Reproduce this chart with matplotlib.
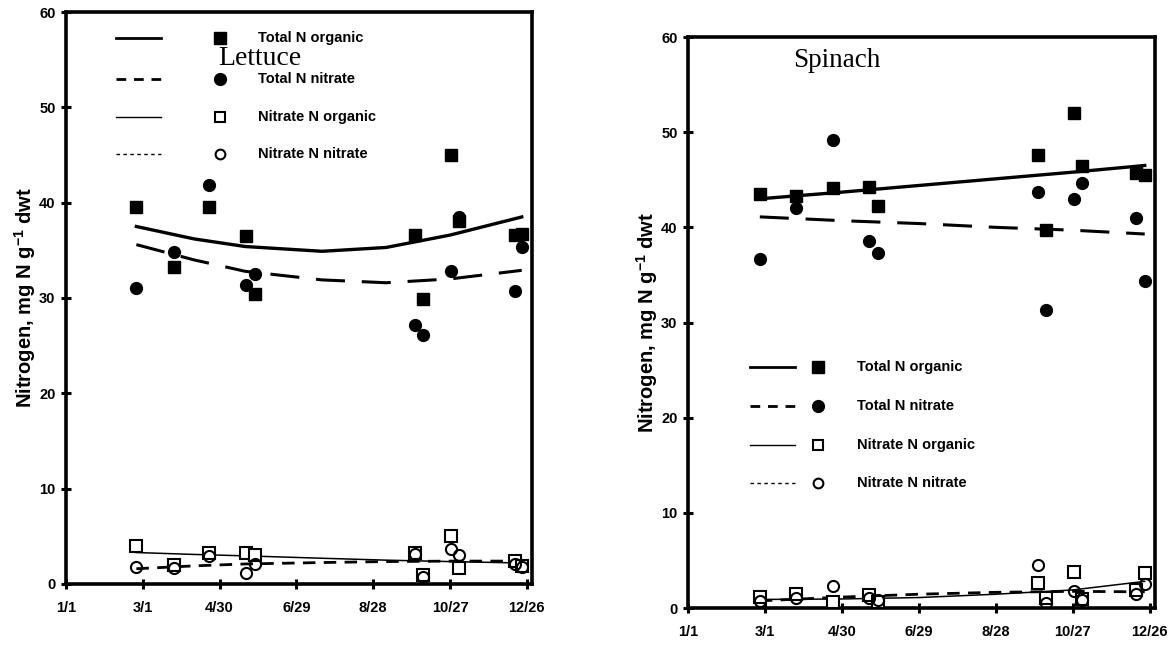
import matplotlib
matplotlib.use("Agg")
import matplotlib.pyplot as plt

plt.rcParams['font.family'] = ['Liberation Sans', 'DejaVu Sans']
plt.rcParams['font.weight'] = 'bold'
plt.rcParams['mathtext.fontset'] = 'custom'
plt.rcParams['mathtext.rm'] = 'Liberation Sans:bold'
plt.rcParams['mathtext.default'] = 'rm'

# x axis: day of year (1/1 = 0), tick every 60 days
tick_days = [0, 60, 120, 180, 240, 300, 360]
tick_labels = ["1/1", "3/1", "4/30", "6/29", "8/28", "10/27", "12/26"]
y_ticks = [0, 10, 20, 30, 40, 50, 60]
legend_labels = ["Total N organic", "Total N nitrate", "Nitrate N organic", "Nitrate N nitrate"]

# Lettuce
lettuce_days = [55, 84, 112, 141, 148, 273, 279, 301, 307, 351, 356]
lettuce_total_org = [39.5, 33.2, 39.5, 36.5, 30.4, 36.6, 29.9, 45.0, 38.1, 36.6, 36.7]
lettuce_total_nit = [31.0, 34.8, 41.9, 31.4, 32.5, 27.2, 26.1, 32.8, 38.5, 30.7, 35.3]
lettuce_nitrate_org = [4.0, 2.0, 3.2, 3.3, 3.0, 3.2, 0.9, 5.0, 1.7, 2.4, 1.9]
lettuce_nitrate_nit = [1.8, 1.7, 2.9, 1.2, 2.1, 3.1, 0.7, 3.7, 3.0, 2.1, 1.8]

lettuce_fit_days = [55, 100, 140, 200, 250, 300, 356]
lettuce_fit_total_org = [37.5, 36.2, 35.4, 34.9, 35.3, 36.6, 38.5]
lettuce_fit_total_nit = [35.6, 34.0, 32.8, 31.9, 31.6, 32.0, 32.9]
lettuce_fit_nitrate_org = [3.3, 3.1, 2.95, 2.7, 2.5, 2.35, 2.2]
lettuce_fit_nitrate_nit = [1.6, 1.9, 2.1, 2.25, 2.35, 2.4, 2.4]

# Spinach
spinach_days = [56, 84, 113, 141, 148, 273, 279, 301, 307, 349, 356]
spinach_total_org = [43.5, 43.3, 44.1, 44.2, 42.2, 47.6, 39.7, 52.0, 46.4, 45.7, 45.5]
spinach_total_nit = [36.7, 42.0, 49.2, 38.6, 37.3, 43.7, 31.3, 43.0, 44.7, 41.0, 34.4]
spinach_nitrate_org = [1.2, 1.5, 0.6, 1.4, 0.6, 2.6, 1.1, 3.8, 0.9, 1.9, 3.7]
spinach_nitrate_nit = [0.7, 1.1, 2.3, 1.0, 0.8, 4.5, 0.5, 1.8, 0.8, 1.5, 2.5]

spinach_fit_days = [56, 120, 180, 240, 300, 356]
spinach_fit_total_org = [43.0, 43.7, 44.4, 45.1, 45.8, 46.5]
spinach_fit_total_nit = [41.1, 40.7, 40.4, 40.0, 39.7, 39.3]
spinach_fit_nitrate_org = [0.9, 0.95, 1.1, 1.45, 1.9, 2.8]
spinach_fit_nitrate_nit = [0.75, 1.15, 1.45, 1.65, 1.75, 1.7]

fig = plt.figure(figsize=(11.74, 6.46), dpi=100)
ax1 = fig.add_axes([0.0562, 0.0960, 0.3969, 0.8854])
ax2 = fig.add_axes([0.5860, 0.0588, 0.3978, 0.8839])

long_dash = (9.5, 5.5)
short_dash = (4.5, 3.0)


def draw_panel(ax, days, t_org, t_nit, n_org, n_nit,
               fdays, f_t_org, f_t_nit, f_n_org, f_n_nit):
    ax.plot(fdays, f_t_org, color='black', lw=2.4, zorder=3)
    ax.plot(fdays, f_t_nit, color='black', lw=2.2, dashes=long_dash, zorder=3)
    ax.plot(fdays, f_n_org, color='black', lw=1.1, zorder=3)
    ax.plot(fdays, f_n_nit, color='black', lw=2.0, dashes=short_dash, zorder=3)
    ax.plot(days, t_org, 's', color='black', ms=8.5, zorder=4)
    ax.plot(days, t_nit, 'o', color='black', ms=8.5, zorder=4)
    ax.plot(days, n_org, 's', mfc='white', mec='black', mew=1.5, ms=8, zorder=4)
    ax.plot(days, n_nit, 'o', mfc='none', mec='black', mew=1.5, ms=8, zorder=5)

    ax.set_xlim(0, 364)
    ax.set_ylim(0, 60)
    ax.set_xticks(tick_days)
    ax.set_xticklabels(tick_labels)
    ax.set_yticks(y_ticks)
    for s in ax.spines.values():
        s.set_linewidth(2.6)
    ax.tick_params(axis='both', direction='inout', length=7, width=2.2, labelsize=10.5)
    ax.tick_params(axis='x', pad=9)
    ax.tick_params(axis='y', pad=4)
    ax.set_ylabel(r'Nitrogen, mg N g$^{-1}$ dwt', fontsize=14.5, fontweight='bold', labelpad=1)


def draw_key(ax, x_line, x_mark, x_text, rows):
    styles = [dict(lw=2.0), dict(lw=2.0, dashes=(3.5, 2.8)), dict(lw=1.0), dict(lw=1.0, dashes=(2.5, 2.5))]
    marks = [dict(marker='s', mfc='black', mec='black', ms=8),
             dict(marker='o', mfc='black', mec='black', ms=8.5),
             dict(marker='s', mfc='white', mec='black', mew=1.5, ms=7),
             dict(marker='o', mfc='white', mec='black', mew=1.5, ms=7)]
    for y, st, mk, lab in zip(rows, styles, marks, legend_labels):
        ax.plot(x_line, [y, y], color='black', transform=ax.transAxes, clip_on=False, **st)
        ax.plot([x_mark], [y], transform=ax.transAxes, clip_on=False, ls='none', **mk)
        ax.text(x_text, y, lab, transform=ax.transAxes, fontsize=10.5, fontweight='bold',
                va='center', ha='left')


draw_panel(ax1, lettuce_days, lettuce_total_org, lettuce_total_nit, lettuce_nitrate_org, lettuce_nitrate_nit,
           lettuce_fit_days, lettuce_fit_total_org, lettuce_fit_total_nit, lettuce_fit_nitrate_org, lettuce_fit_nitrate_nit)
draw_panel(ax2, spinach_days, spinach_total_org, spinach_total_nit, spinach_nitrate_org, spinach_nitrate_nit,
           spinach_fit_days, spinach_fit_total_org, spinach_fit_total_nit, spinach_fit_nitrate_org, spinach_fit_nitrate_nit)

draw_key(ax1, [0.107, 0.204], 0.330, 0.412, [0.955, 0.883, 0.816, 0.752])
draw_key(ax2, [0.133, 0.229], 0.278, 0.362, [0.422, 0.354, 0.285, 0.219])

ax1.text(0.326, 0.907, "Lettuce", transform=ax1.transAxes, fontsize=20, fontweight='normal',
         family='Liberation Serif', ha='left', va='baseline')
ax2.text(0.225, 0.947, "Spinach", transform=ax2.transAxes, fontsize=19.5, fontweight='normal',
         family='Liberation Serif', ha='left', va='baseline')

fig.savefig("out.png", dpi=100)
